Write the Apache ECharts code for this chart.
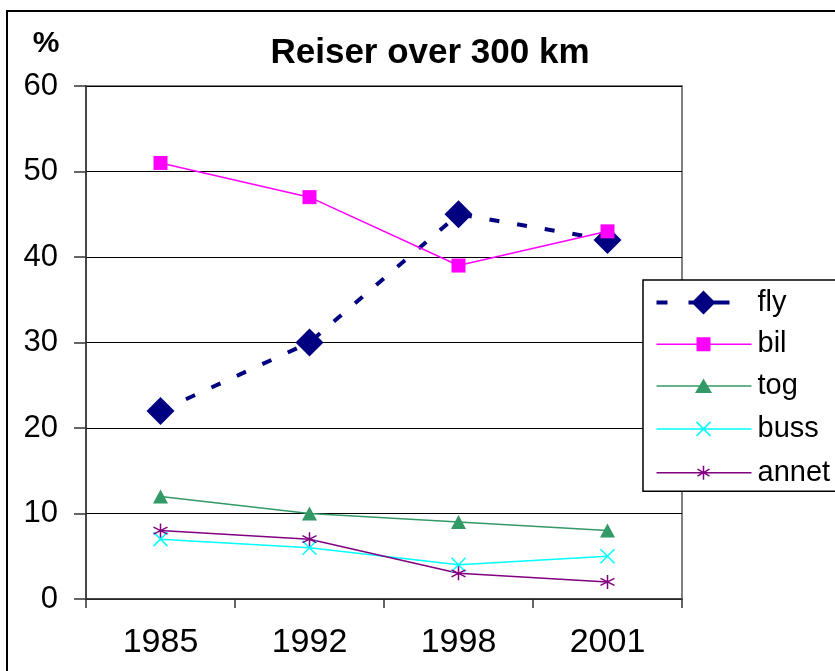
<!DOCTYPE html>
<html>
<head>
<meta charset="utf-8">
<script src="https://cdn.jsdelivr.net/npm/echarts@6/dist/echarts.min.js"></script>
<style>
  html, body { margin: 0; padding: 0; background: #fff; }
  #chart { width: 835px; height: 671px; }
</style>
</head>
<body>
<div id="chart"></div>
<script>
// Long-distance trips (over 300 km) by transport mode, share in percent
const years = ['1985', '1992', '1998', '2001'];
const fly = [22, 30, 45, 42];
const bil = [51, 47, 39, 43];
const tog = [12, 10, 9, 8];
const buss = [7, 6, 4, 5];
const annet = [8, 7, 3, 2];

const FONT = '"Liberation Sans", Arial, sans-serif';

// Stroke-only marker shapes
const crossPath = 'path://M0,0L10,10M10,0L0,10';
const starPath = 'path://M5,0L5,10M0.8,2.5L9.2,7.5M9.2,2.5L0.8,7.5';

// Legend keys: line sample plus marker, drawn in a 95 x 26 box
// (the corner moves pin the box so the key is drawn 1:1)
const BOX = 'M0,0M95,26';
const legendIcons = {
  fly: 'path://' + BOX +
    'M0,11L11,11L11,15L0,15Z' +
    'M32,11L73,11L73,15L32,15Z' +
    'M47,1L59,13L47,25L35,13Z',
  bil: 'path://' + BOX +
    'M0,12.25L95,12.25L95,13.75L0,13.75Z' +
    'M40,6L54,6L54,20L40,20Z',
  tog: 'path://' + BOX +
    'M0,12.25L95,12.25L95,13.75L0,13.75Z' +
    'M47,5.5L55.5,20L38.5,20Z',
  buss: 'path://' + BOX +
    'M0,13L95,13' +
    'M40,6L54,20M54,6L40,20',
  annet: 'path://' + BOX +
    'M0,13L95,13' +
    'M47,6L47,20M41,9.5L53,16.5M53,9.5L41,16.5'
};

const chart = echarts.init(document.getElementById('chart'));

chart.setOption({
  animation: false,
  backgroundColor: '#fff',
  graphic: [
    {
      type: 'rect',
      shape: { x: 7, y: 11, width: 900, height: 700 },
      style: { fill: 'none', stroke: '#000', lineWidth: 2 },
      silent: true
    },
    {
      type: 'text',
      x: 430, y: 53,
      style: {
        text: 'Reiser over 300 km',
        font: 'bold 35px ' + FONT,
        fill: '#000',
        align: 'center',
        verticalAlign: 'middle'
      }
    },
    {
      type: 'text',
      x: 46, y: 44,
      style: {
        text: '%',
        font: 'bold 30px ' + FONT,
        fill: '#000',
        align: 'center',
        verticalAlign: 'middle'
      }
    }
  ],
  grid: {
    left: 86, top: 86, right: 153, bottom: 72,
    show: true,
    borderColor: '#808080',
    borderWidth: 2,
    backgroundColor: 'transparent'
  },
  legend: {
    orient: 'vertical',
    left: 643, top: 280,
    padding: [8, 120, 3, 11],
    backgroundColor: '#fff',
    borderColor: '#000',
    borderWidth: 1.5,
    itemWidth: 95,
    itemHeight: 26,
    itemGap: 12.8,
    symbolKeepAspect: false,
    textStyle: { fontFamily: FONT, fontSize: 29, color: '#000', padding: [0, 0, 0, 1] },
    data: [
      { name: 'fly', icon: legendIcons.fly,
        itemStyle: { color: '#000080', borderWidth: 0 } },
      { name: 'bil', icon: legendIcons.bil,
        itemStyle: { color: '#FF00FF', borderWidth: 0 } },
      { name: 'tog', icon: legendIcons.tog,
        itemStyle: { color: '#339966', borderWidth: 0 } },
      { name: 'buss', icon: legendIcons.buss,
        itemStyle: { color: 'none', borderColor: '#00FFFF', borderWidth: 1.5 } },
      { name: 'annet', icon: legendIcons.annet,
        itemStyle: { color: 'none', borderColor: '#800080', borderWidth: 1.5 } }
    ]
  },
  xAxis: {
    type: 'category',
    data: years,
    boundaryGap: true,
    axisLine: { lineStyle: { color: '#333', width: 1.5 } },
    axisTick: { show: true, length: 9, lineStyle: { color: '#333', width: 1.5 } },
    axisLabel: { fontFamily: FONT, fontSize: 34, color: '#000', margin: 27 },
    splitLine: { show: false }
  },
  yAxis: {
    type: 'value',
    min: 0, max: 60, interval: 10,
    axisLine: { show: true, lineStyle: { color: '#333', width: 1.5 } },
    axisTick: { show: true, length: 12, lineStyle: { color: '#333', width: 1.5 } },
    axisLabel: { fontFamily: FONT, fontSize: 31, color: '#000', margin: 28 },
    splitLine: { lineStyle: { color: '#000', width: 1 } }
  },
  series: [
    {
      name: 'fly', type: 'line', data: fly,
      symbol: 'diamond', symbolSize: 28,
      lineStyle: { color: '#000080', width: 4, type: [10, 18] },
      itemStyle: { color: '#000080' }
    },
    {
      name: 'bil', type: 'line', data: bil,
      symbol: 'rect', symbolSize: 14,
      lineStyle: { color: '#FF00FF', width: 1.5 },
      itemStyle: { color: '#FF00FF' }
    },
    {
      name: 'tog', type: 'line', data: tog,
      symbol: 'triangle', symbolSize: [15, 14],
      lineStyle: { color: '#339966', width: 1.5 },
      itemStyle: { color: '#339966' }
    },
    {
      name: 'buss', type: 'line', data: buss,
      symbol: crossPath, symbolSize: 14,
      lineStyle: { color: '#00FFFF', width: 1.5 },
      itemStyle: { color: 'none', borderColor: '#00FFFF', borderWidth: 1.5 }
    },
    {
      name: 'annet', type: 'line', data: annet,
      symbol: starPath, symbolSize: 14,
      lineStyle: { color: '#800080', width: 1.5 },
      itemStyle: { color: 'none', borderColor: '#800080', borderWidth: 1.5 }
    }
  ]
});
</script>
</body>
</html>
